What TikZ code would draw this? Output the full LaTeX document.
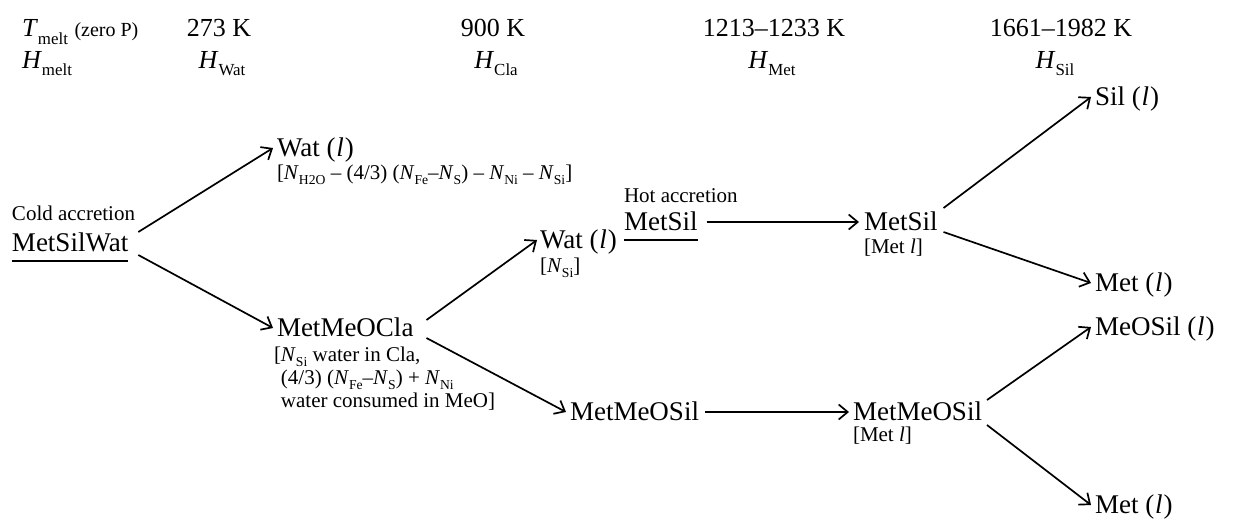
\documentclass[tikz,border=0pt]{standalone}
\usepackage{fontspec}
\setmainfont{Liberation Serif}
\usetikzlibrary{arrows.meta,calc}
% italic symbol with a lowered, smaller upright subscript
\newcommand\sbs[2]{\textit{#1}\raisebox{-0.28em}{\scalebox{0.65}{#2}}}
% liquid marker
\newcommand\liq{(\kern0.03em\textit{l}\/\kern0.04em)}
% underline drawn as a rule below the text
\newsavebox\ulsave
\newcommand\ulbox[1]{\sbox\ulsave{#1}\rlap{\rule[-0.42em]{\wd\ulsave}{0.07em}}\usebox\ulsave}
\tikzset{
  main/.style={font=\fontsize{27}{31}\selectfont, inner sep=0pt, outer sep=0pt, anchor=base west},
  note/.style={font=\fontsize{21}{23}\selectfont, inner sep=0pt, outer sep=0pt, anchor=base west},
  head/.style={font=\fontsize{26}{30}\selectfont, inner sep=0pt, outer sep=0pt, anchor=base},
  arr/.style={line width=1.7pt, -{Straight Barb[length=9pt,width=15pt,line width=1.7pt]}}
}
\begin{document}
\begin{tikzpicture}[x=1pt,y=-1pt]
\useasboundingbox (0,0) rectangle (1249,519);

% header: melting temperatures and enthalpies
\node[head, anchor=base west] (tm) at (22,37) {\sbs{T}{melt} {\fontsize{20}{24}\selectfont(zero P)}};
\node[head, anchor=base west] (hm) at (22,68) {\sbs{H}{melt}};
\node[head] (t1) at (219,37) {273 K};
\node[head] (h1) at (222,68) {\sbs{H}{Wat}};
\node[head] (t2) at (493,37) {900 K};
\node[head] (h2) at (496,68) {\sbs{H}{Cla}};
\node[head] (t3) at (774,37) {1213–1233 K};
\node[head] (h3) at (772,68) {\sbs{H}{Met}};
\node[head] (t4) at (1061,37) {1661–1982 K};
\node[head] (h4) at (1055,68) {\sbs{H}{Sil}};

% cold accretion branch
\node[note] (cold) at (12,220) {Cold accretion};
\node[main] (msw) at (12,251) {\ulbox{MetSilWat}};
\node[main] (wat1) at (277,156) {Wat \liq};
\node[note] (wat1n) at (277,179) {[\sbs{N}{H2O} – (4/3) (\sbs{N}{Fe}–\sbs{N}{S}) – \sbs{N}{Ni} – \sbs{N}{Si}]};
\node[main] (mmoc) at (277,336) {MetMeOCla};
\node[note] (mmocn) at (274,361) {\begin{tabular}[t]{@{}l@{}}[\sbs{N}{Si} water in Cla,\\ \phantom{[}(4/3) (\sbs{N}{Fe}–\sbs{N}{S}) + \sbs{N}{Ni}\\ \phantom{[}water consumed in MeO]\end{tabular}};
\node[main] (wat2) at (540,248) {Wat \liq};
\node[note] (wat2n) at (540,272) {[\sbs{N}{Si}]};
\node[main] (mmos) at (570,420) {MetMeOSil};
\node[main] (mmos2) at (853,420) {MetMeOSil};
\node[note] (mmos2n) at (853,441) {[Met \textit{l}]};
\node[main] (meosil) at (1095,335) {MeOSil \liq};
\node[main] (met2) at (1095,513) {Met \liq};

% hot accretion branch
\node[note] (hot) at (624,202) {Hot accretion};
\node[main] (ms) at (624,230) {\ulbox{MetSil}};
\node[main] (ms2) at (864,230) {MetSil};
\node[note] (ms2n) at (864,253) {[Met \textit{l}]};
\node[main] (sil) at (1095,105) {Sil \liq};
\node[main] (met1) at (1095,291) {Met \liq};

% connectors
\draw[arr] ($(msw.base east)+(10,-19)$) -- ($(wat1.base west)+(-4,-8)$);
\draw[arr] ($(msw.base east)+(10,4)$) -- ($(mmoc.base west)+(-4,-8)$);
\draw[arr] ($(mmoc.base east)+(13,-16)$) -- ($(wat2.base west)+(-3,-8)$);
\draw[arr] ($(mmoc.base east)+(13,2)$) -- ($(mmos.base west)+(-4,-8)$);
\draw[arr] ($(mmos.base east)+(6,-8)$) -- ($(mmos2.base west)+(-4,-8)$);
\draw[arr] ($(mmos2.base east)+(5,-20)$) -- ($(meosil.base west)+(-4,-8)$);
\draw[arr] ($(mmos2.base east)+(5,5)$) -- ($(met2.base west)+(-4,-8)$);
\draw[arr] ($(ms.base east)+(9,-8)$) -- ($(ms2.base west)+(-5,-8)$);
\draw[arr] ($(ms2.base east)+(6,-22)$) -- ($(sil.base west)+(-4,-8)$);
\draw[arr] ($(ms2.base east)+(6,2)$) -- ($(met1.base west)+(-4,-8)$);
\end{tikzpicture}
\end{document}
